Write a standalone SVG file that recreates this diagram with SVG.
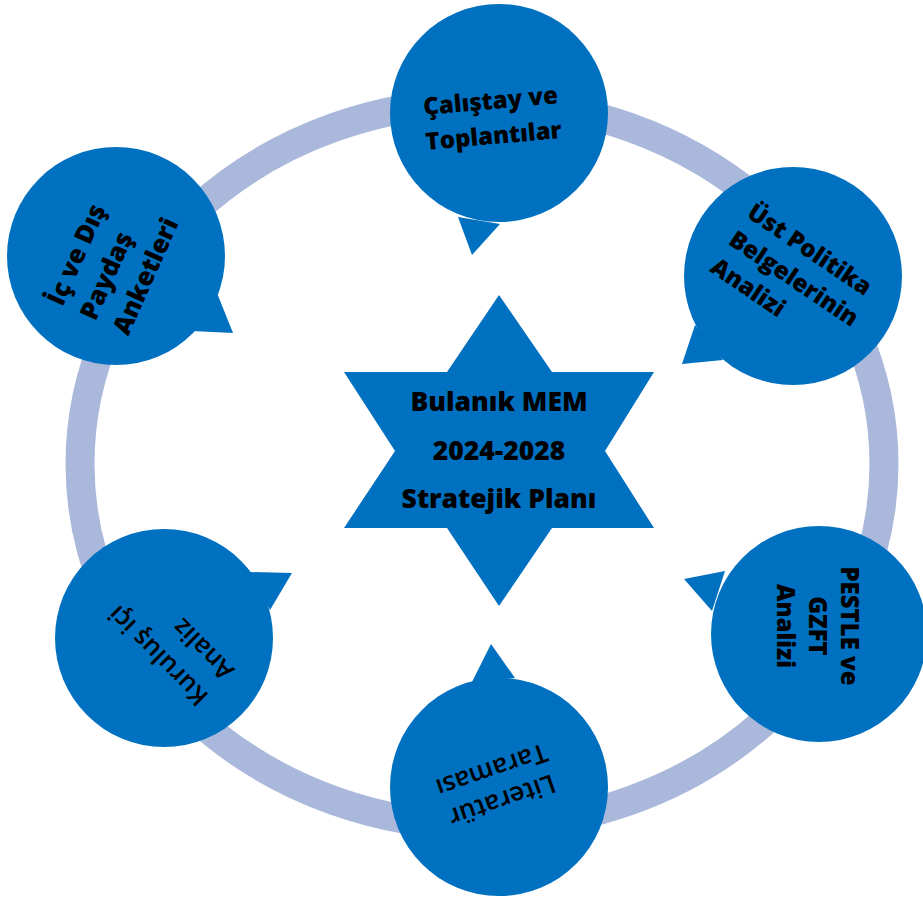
<svg xmlns="http://www.w3.org/2000/svg" width="923" height="898" viewBox="0 0 923 898">
<style>
.bub{fill:#0070C0}
.t{font-family:"Open Sans","Noto Sans","Liberation Sans",sans-serif;font-weight:800;font-size:24px;fill:#000}
.m{text-anchor:middle}
.s{font-weight:600}
.c{font-size:26.5px}
.b{font-size:25.5px}
.l{font-size:26px}
</style>
<rect width="923" height="898" fill="#ffffff"/>
<g id="connectors">
<ellipse cx="482" cy="464" rx="402" ry="362" fill="none" stroke="#AAB9DB" stroke-width="29"/>
</g>
<g id="n-calistay">
<circle class="bub" cx="499" cy="113" r="109"/>
<polygon class="bub" points="458,217 472,255 500,224"/>
<g transform="translate(492,118) rotate(-5)">
<text class="t m" x="0" y="-8.9">Çalıştay ve</text>
<text class="t m" x="0" y="26.1">Toplantılar</text>
</g>
</g>
<g id="n-ust">
<circle class="bub" cx="793" cy="276" r="109"/>
<polygon class="bub" points="695,325 682,364 723,360"/>
<g transform="translate(750.4,209) rotate(34)">
<text class="t" x="0" y="8.6">Üst Politika</text>
<text class="t" x="0" y="41.6">Belgelerinin</text>
<text class="t" x="0" y="74.6">Analizi</text>
</g>
</g>
<g id="n-pestle">
<circle class="bub" cx="819" cy="634" r="108"/>
<polygon class="bub" points="725,571 684,579 712,611"/>
<g transform="translate(818,626) rotate(90)">
<text class="t m" x="0" y="-23.4">PESTLE ve</text>
<text class="t m" x="0" y="8.6">GZFT</text>
<text class="t m" x="0" y="40.6">Analizi</text>
</g>
</g>
<g id="n-literatur">
<circle class="bub" cx="499" cy="787" r="109"/>
<polygon class="bub" points="472,682 491,644 515,678"/>
<g transform="translate(497,785.5) rotate(161)">
<text class="t m s l" x="0" y="-7">Literatür</text>
<text class="t m s l" x="0" y="25">Taraması</text>
</g>
</g>
<g id="n-kurulus">
<circle class="bub" cx="164" cy="638" r="109"/>
<polygon class="bub" points="250,572 292,573 270,610"/>
<g transform="translate(203.4,701.6) rotate(225)">
<text class="t s b" x="0" y="9">Kuruluş içi</text>
<text class="t s b" x="0" y="45.5">Analiz</text>
</g>
</g>
<g id="n-paydas">
<circle class="bub" cx="116" cy="256" r="109"/>
<polygon class="bub" points="217,293 233,333 192,331"/>
<g transform="translate(54.3,303.5) rotate(-66)">
<text class="t b" x="0" y="9">İç ve Dış</text>
<text class="t b" x="0" y="45">Paydaş</text>
<text class="t b" x="0" y="81">Anketleri</text>
</g>
</g>
<g id="n-center">
<polygon class="bub" points="499,295 552,372 654,372 605,451 654,528 552,528 499,606 447,528 344,528 395,451 344,372 447,372"/>
<text class="t m c" x="499" y="410.7">Bulanık MEM</text>
<text class="t m c" x="499" y="460">2024-2028</text>
<text class="t m c" x="499" y="508">Stratejik Planı</text>
</g>
</svg>
